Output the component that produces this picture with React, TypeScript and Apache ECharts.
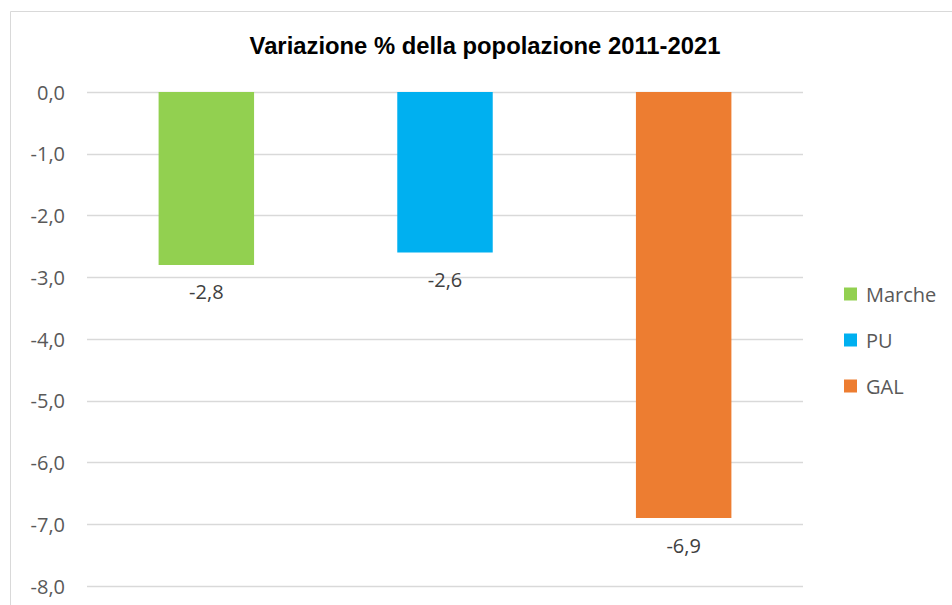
import React, { useEffect, useRef } from "react";
import * as echarts from "echarts";

const titleText = "Variazione % della popolazione 2011-2021";
const categories = ["Marche", "PU", "GAL"];
const values = [-2.8, -2.6, -6.9];
const colors = ["#92D050", "#00B0F0", "#ED7D31"];
const yMin = -8;
const yMax = 0;
const yInterval = 1;

const fmt = (v: number) => v.toFixed(1).replace(".", ",").replace("-0,0", "0,0");

export default function App() {
  const ref = useRef<HTMLDivElement>(null);
  useEffect(() => {
    if (!ref.current) return;
    const chart = echarts.init(ref.current, undefined, { renderer: "svg" });
    const series = categories.map((name, i) => ({
      name,
      type: "bar",
      stack: "all",
      barWidth: "40%",
      itemStyle: { color: colors[i] },
      data: categories.map((_, j) => (j === i ? values[i] : "-")),
      label: {
        show: true,
        position: "bottom",
        distance: 17,
        color: "#404040",
        fontFamily: "Open Sans",
        fontSize: 20,
        formatter: (p: any) => fmt(p.value),
      },
    }));
    chart.setOption({
      animation: false,
      backgroundColor: "#ffffff",
      title: {
        text: titleText,
        left: 485,
        textAlign: "center",
        top: 33,
        padding: 0,
        textStyle: {
          fontFamily: "Liberation Sans, Arial",
          fontWeight: "bold",
          fontSize: 23.8,
          color: "#000000",
        },
      },
      graphic: [
        {
          type: "rect",
          shape: { x: 10.5, y: 11.5, width: 1000, height: 700 },
          style: { fill: "none", stroke: "#d9d9d9", lineWidth: 1 },
          silent: true,
          z: -1,
        },
      ],
      legend: {
        orient: "vertical",
        left: 844,
        top: 284,
        padding: 0,
        itemWidth: 13,
        itemHeight: 13,
        itemGap: 26,
        icon: "rect",
        textStyle: {
          fontFamily: "Open Sans",
          fontSize: 20,
          color: "#595959",
          padding: [0, 0, 0, 4],
        },
        data: categories,
      },
      grid: { left: 87, top: 92, width: 716, height: 494 },
      xAxis: {
        type: "category",
        data: categories,
        show: false,
      },
      yAxis: {
        type: "value",
        min: yMin,
        max: yMax,
        interval: yInterval,
        axisLine: { show: false },
        axisTick: { show: false },
        axisLabel: {
          margin: 22,
          color: "#595959",
          fontFamily: "Open Sans",
          fontSize: 20,
          formatter: (v: number) => fmt(v),
        },
        splitLine: { lineStyle: { color: "#d9d9d9", width: 1.3 } },
      },
      series,
    });
    return () => chart.dispose();
  }, []);
  return (
    <div
      ref={ref}
      style={{ position: "absolute", left: 0, top: 0, width: 952, height: 605 }}
    />
  );
}
